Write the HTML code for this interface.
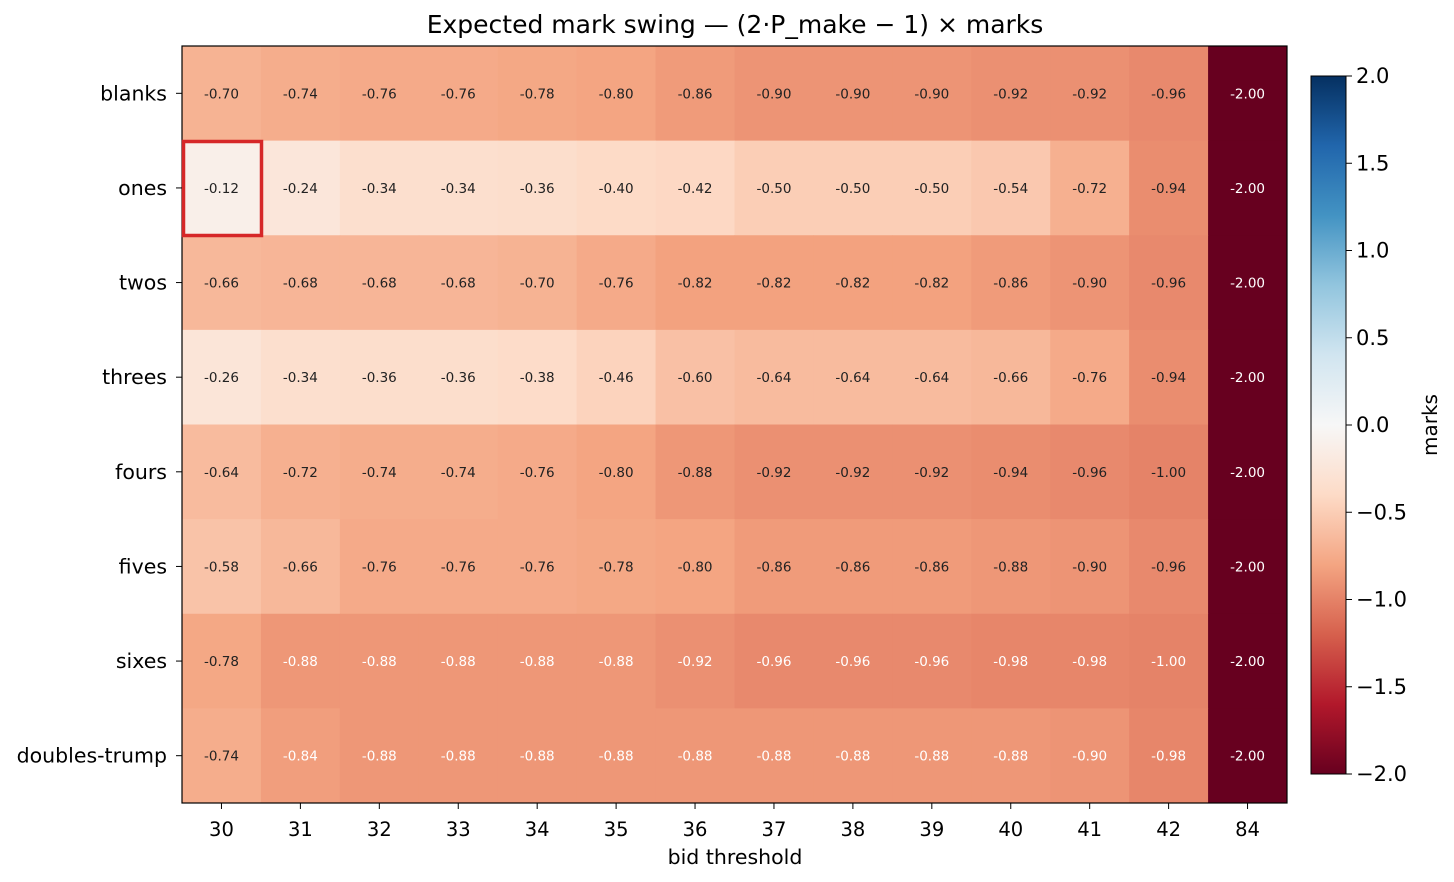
<!DOCTYPE html>
<html><head><meta charset="utf-8"><style>
body{margin:0;background:#fff;}
svg{display:block;font-family:"DejaVu Sans","Liberation Sans",sans-serif;}
</style></head><body>
<svg id="s" width="1454" height="882" xmlns="http://www.w3.org/2000/svg">
<defs>
<linearGradient id="cb" x1="0" y1="1" x2="0" y2="0">
<stop offset="0" stop-color="#67001f"/><stop offset="0.1" stop-color="#b2182b"/><stop offset="0.2" stop-color="#d6604d"/><stop offset="0.3" stop-color="#f4a582"/><stop offset="0.4" stop-color="#fddbc7"/><stop offset="0.5" stop-color="#f7f7f7"/><stop offset="0.6" stop-color="#d1e5f0"/><stop offset="0.7" stop-color="#92c5de"/><stop offset="0.8" stop-color="#4393c3"/><stop offset="0.9" stop-color="#2166ac"/><stop offset="1" stop-color="#053061"/>
</linearGradient></defs>
<text x="735" y="33" font-size="25" text-anchor="middle" fill="#000">Expected mark swing — (2·P_make − 1) × marks</text>
<g id="cells"></g>
<rect x="182" y="46" width="1105" height="757" fill="none" stroke="#000" stroke-width="1.2"/>
<rect x="183.5" y="141.5" width="78" height="94" fill="none" stroke="#d62728" stroke-width="3.5"/>
<g id="ax"></g>
<text x="735" y="864" font-size="20.5" text-anchor="middle">bid threshold</text>
<rect x="1311" y="76" width="35" height="698" fill="url(#cb)" stroke="#000" stroke-width="1"/>
<g id="cbt"></g>
<text transform="translate(1437,425) rotate(-90)" font-size="20" text-anchor="middle">marks</text>
</svg>
<script>
const stops=["#67001f","#b2182b","#d6604d","#f4a582","#fddbc7","#f7f7f7","#d1e5f0","#92c5de","#4393c3","#2166ac","#053061"].map(h=>[1,3,5].map(i=>parseInt(h.substr(i,2),16)));
function col(v){let t=(v+2)/4;t=Math.max(0,Math.min(1,t));let f=t*10,i=Math.min(9,Math.floor(f)),r=f-i;const a=stops[i],b=stops[i+1];return "rgb("+a.map((x,k)=>Math.round(x+(b[k]-x)*r)).join(",")+")";}
const rows=["blanks","ones","twos","threes","fours","fives","sixes","doubles-trump"];
const cols=["30","31","32","33","34","35","36","37","38","39","40","41","42","84"];
const D=[
[-.70,-.74,-.76,-.76,-.78,-.80,-.86,-.90,-.90,-.90,-.92,-.92,-.96,-2],
[-.12,-.24,-.34,-.34,-.36,-.40,-.42,-.50,-.50,-.50,-.54,-.72,-.94,-2],
[-.66,-.68,-.68,-.68,-.70,-.76,-.82,-.82,-.82,-.82,-.86,-.90,-.96,-2],
[-.26,-.34,-.36,-.36,-.38,-.46,-.60,-.64,-.64,-.64,-.66,-.76,-.94,-2],
[-.64,-.72,-.74,-.74,-.76,-.80,-.88,-.92,-.92,-.92,-.94,-.96,-1.00,-2],
[-.58,-.66,-.76,-.76,-.76,-.78,-.80,-.86,-.86,-.86,-.88,-.90,-.96,-2],
[-.78,-.88,-.88,-.88,-.88,-.88,-.92,-.96,-.96,-.96,-.98,-.98,-1.00,-2],
[-.74,-.84,-.88,-.88,-.88,-.88,-.88,-.88,-.88,-.88,-.88,-.90,-.98,-2]];
const x0=182,y0=46,cw=1105/14,ch=757/8;let h="";
D.forEach((r,i)=>r.forEach((v,j)=>{const x=x0+j*cw,y=y0+i*ch;
const white=(j==13)||(i>=6&&j>=1);
h+=`<rect x="${x}" y="${y}" width="${cw+0.5}" height="${ch+0.5}" fill="${col(v)}"/>`;
h+=`<text x="${x+cw/2}" y="${y+ch/2+5}" font-size="13.5" text-anchor="middle" fill="${white?'#fff':'#222'}">${v.toFixed(2)}</text>`;}));
document.getElementById("cells").innerHTML=h;
let a="";
rows.forEach((n,i)=>{const y=y0+(i+.5)*ch;a+=`<line x1="176" y1="${y}" x2="182" y2="${y}" stroke="#000"/><text x="167" y="${y+7}" font-size="20.5" text-anchor="end">${n}</text>`;});
cols.forEach((n,j)=>{const x=x0+(j+.5)*cw;a+=`<line x1="${x}" y1="803" x2="${x}" y2="809" stroke="#000"/><text x="${x}" y="836" font-size="19.5" text-anchor="middle">${n}</text>`;});
document.getElementById("ax").innerHTML=a;
let c="";
for(let v=-2;v<=2.001;v+=0.5){const y=774-(v+2)/4*698;const s=(v<0?"−":"")+Math.abs(v).toFixed(1);
c+=`<line x1="1346" y1="${y}" x2="1352" y2="${y}" stroke="#000"/><text x="1356" y="${y+7}" font-size="21">${s}</text>`;}
document.getElementById("cbt").innerHTML=c;
</script>
</body></html>
